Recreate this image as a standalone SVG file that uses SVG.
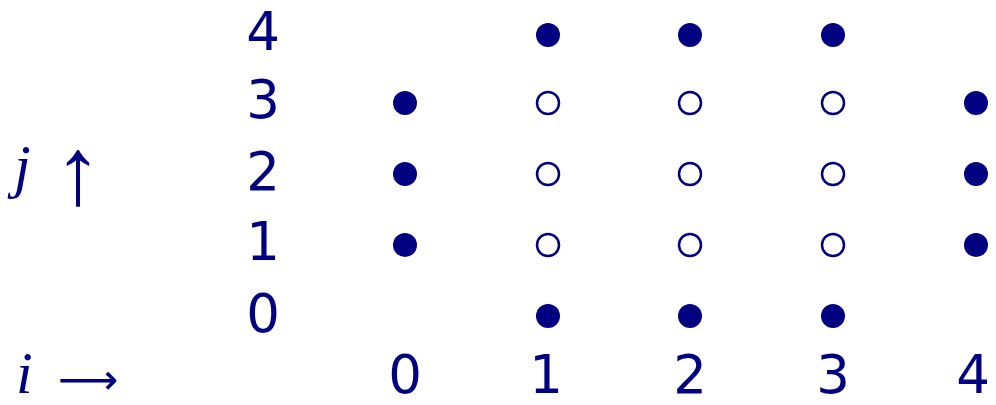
<svg xmlns="http://www.w3.org/2000/svg" width="996" height="405" viewBox="0 0 996 405">
<style>
.num{font-family:"DejaVu Sans","Liberation Sans",sans-serif;font-size:53px;fill:#000080;text-anchor:middle}
.var{font-family:"Liberation Serif",serif;font-style:italic;font-size:60px;fill:#000080}
.arr{font-family:"Liberation Serif","DejaVu Sans",serif;fill:#000080}
.f{fill:#000080}
.o{fill:none;stroke:#000080;stroke-width:2.5}
</style>
<rect width="996" height="405" fill="#fff"/>
<g id="labels-j">
<text class="num" x="263" y="50">4</text>
<text class="num" x="263" y="118">3</text>
<text class="num" x="263" y="190">2</text>
<text class="num" x="263" y="260">1</text>
<text class="num" x="263" y="332">0</text>
</g>
<g id="labels-i">
<text class="num" x="405" y="393">0</text>
<text class="num" x="546" y="393">1</text>
<text class="num" x="690" y="393">2</text>
<text class="num" x="833" y="393">3</text>
<text class="num" x="973" y="393">4</text>
</g>
<g id="axis-j">
<text class="var" x="14" y="186">j</text>
<text class="arr" x="78" y="204" font-size="96" text-anchor="middle">↑</text>
</g>
<g id="axis-i">
<text class="var" x="16" y="393">i</text>
<text class="arr" x="58" y="394" font-size="42" font-family="DejaVu Sans">⟶</text>
</g>
<g id="points">
<circle class="f" cx="548" cy="35" r="12"/>
<circle class="f" cx="690" cy="35" r="12"/>
<circle class="f" cx="833" cy="35" r="12"/>
<circle class="f" cx="405" cy="103" r="12"/>
<circle class="o" cx="548" cy="103" r="11"/>
<circle class="o" cx="690" cy="103" r="11"/>
<circle class="o" cx="833" cy="103" r="11"/>
<circle class="f" cx="976" cy="103" r="12"/>
<circle class="f" cx="405" cy="174" r="12"/>
<circle class="o" cx="548" cy="174" r="11"/>
<circle class="o" cx="690" cy="174" r="11"/>
<circle class="o" cx="833" cy="174" r="11"/>
<circle class="f" cx="976" cy="174" r="12"/>
<circle class="f" cx="405" cy="245" r="12"/>
<circle class="o" cx="548" cy="245" r="11"/>
<circle class="o" cx="690" cy="245" r="11"/>
<circle class="o" cx="833" cy="245" r="11"/>
<circle class="f" cx="976" cy="245" r="12"/>
<circle class="f" cx="548" cy="316" r="12"/>
<circle class="f" cx="690" cy="316" r="12"/>
<circle class="f" cx="833" cy="316" r="12"/>
</g>
</svg>
